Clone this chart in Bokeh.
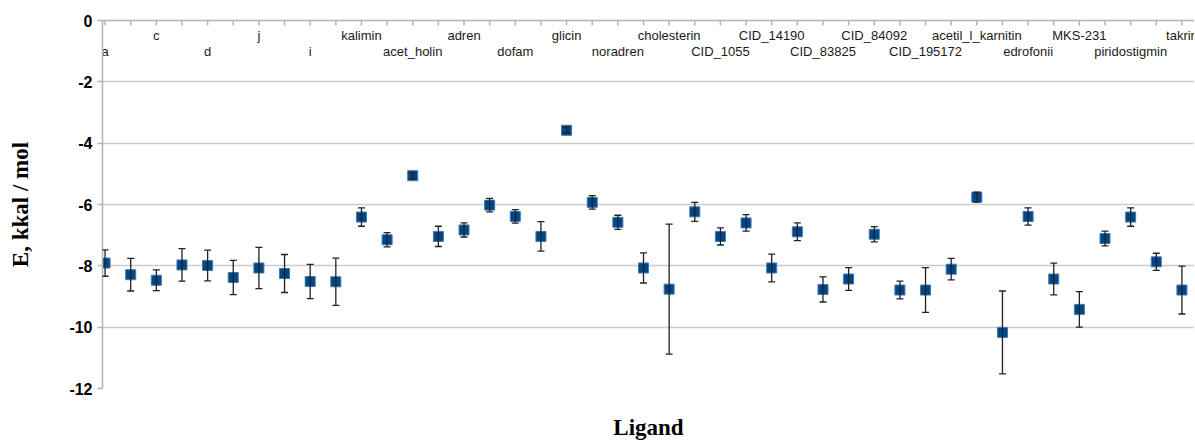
import math
from bokeh.plotting import figure
from bokeh.models import (Range1d, ColumnDataSource, Whisker, TeeHead, LinearAxis,
                          FixedTicker)
from bokeh.core.properties import value
from bokeh.embed import file_html
from bokeh.resources import INLINE

# Category labels (only every other label is legible in the source chart)
ligands = ["a", "", "c", "", "d", "", "j", "", "i", "",
           "kalimin", "", "acet_holin", "", "adren", "", "dofam", "", "glicin", "",
           "noradren", "", "cholesterin", "", "CID_1055", "", "CID_14190", "", "CID_83825", "",
           "CID_84092", "", "CID_195172", "", "acetil_l_karnitin", "", "edrofonii", "", "MKS-231", "",
           "piridostigmin", "", "takrin"]

energy = [-7.91, -8.29, -8.47, -7.97, -7.99, -8.38, -8.07, -8.25, -8.51, -8.52,
          -6.41, -7.15, -5.06, -7.04, -6.83, -6.02, -6.39, -7.04, -3.58, -5.93,
          -6.58, -8.07, -8.76, -6.24, -7.04, -6.60, -8.07, -6.89, -8.77, -8.43,
          -6.97, -8.79, -8.79, -8.11, -5.76, -10.17, -6.39, -8.43, -9.42, -7.11,
          -6.41, -7.87, -8.79]

error = [0.43, 0.53, 0.34, 0.53, 0.50, 0.56, 0.67, 0.62, 0.56, 0.77,
         0.30, 0.23, 0.10, 0.33, 0.23, 0.22, 0.22, 0.48, 0.10, 0.22,
         0.23, 0.49, 2.12, 0.31, 0.28, 0.27, 0.45, 0.29, 0.41, 0.37,
         0.25, 0.29, 0.73, 0.35, 0.16, 1.35, 0.28, 0.52, 0.58, 0.24,
         0.30, 0.28, 0.78]

y_ticks = [0, -2, -4, -6, -8, -10, -12]
y_tick_labels = ["0", "-2", "-4", "-6", "-8", "-10", "-12"]
y_top = 0

idx = list(range(len(energy)))
src = ColumnDataSource(dict(
    x=idx, y=energy,
    upper=[e + d for e, d in zip(energy, error)],
    lower=[e - d for e, d in zip(energy, error)],
))
tick_src = ColumnDataSource(dict(x=idx, y=[y_top] * len(idx)))

lab_x = [i for i, t in enumerate(ligands) if t]
lab_t = [t for t in ligands if t]
lab_off = [15 if (i % 4 == 2) else 31 for i in lab_x]
lab_src = ColumnDataSource(dict(x=lab_x, y=[y_top] * len(lab_x), text=lab_t, off=lab_off))

p = figure(width=1194, height=442,
           x_range=Range1d(-0.1, 42.49), y_range=Range1d(-12, y_top),
           output_backend="svg", toolbar_location=None,
           min_border_left=102, min_border_right=0, min_border_top=20, min_border_bottom=53)
p.outline_line_color = None
p.background_fill_color = "white"
p.border_fill_color = "white"

grid_col = "#cccccc"
axis_col = "#b3b3b3"

p.xgrid.visible = False
p.ygrid.grid_line_color = grid_col
p.ygrid.grid_line_width = 1.5
p.ygrid.ticker = FixedTicker(ticks=y_ticks)

# y axis
p.yaxis.ticker = FixedTicker(ticks=y_ticks)
p.yaxis.major_label_overrides = dict(zip(y_ticks, y_tick_labels))
p.yaxis.axis_line_color = axis_col
p.yaxis.axis_line_width = 1.5
p.yaxis.major_tick_line_color = axis_col
p.yaxis.major_tick_line_width = 1.5
p.yaxis.major_tick_out = 5
p.yaxis.major_tick_in = 0
p.yaxis.minor_tick_line_color = None
p.yaxis.major_label_standoff = 5
p.yaxis.major_label_text_font = "Liberation Sans"
p.yaxis.major_label_text_font_style = "bold"
p.yaxis.major_label_text_font_size = "16px"
p.yaxis.major_label_text_color = "black"
p.yaxis.axis_label = "E, kkal / mol"
p.yaxis.axis_label_text_font = "Liberation Serif"
p.yaxis.axis_label_text_font_style = "bold"
p.yaxis.axis_label_text_font_size = "23px"
p.yaxis.axis_label_text_color = "black"
p.yaxis.axis_label_standoff = 33

# bottom axis: only its title
p.xaxis.ticker = FixedTicker(ticks=[])
p.xaxis.axis_line_color = None
p.xaxis.major_tick_line_color = None
p.xaxis.minor_tick_line_color = None
p.xaxis.major_tick_out = 0
p.xaxis.major_tick_in = 0
p.xaxis.major_label_standoff = 0
p.xaxis.axis_label = "Ligand"
p.xaxis.axis_label_text_font = "Liberation Serif"
p.xaxis.axis_label_text_font_style = "bold"
p.xaxis.axis_label_text_font_size = "23px"
p.xaxis.axis_label_text_color = "black"
p.xaxis.axis_label_standoff = 26

# top axis line (no ticks/labels of its own)
top = LinearAxis(ticker=FixedTicker(ticks=[]),
                 axis_line_color=axis_col, axis_line_width=1.5,
                 major_tick_line_color=None, minor_tick_line_color=None)
p.add_layout(top, "above")

# category tick marks hanging from the top line (half clipped by the frame)
p.scatter(x="x", y="y", source=tick_src, marker="dash", size=10, angle=math.pi / 2,
          line_color=axis_col, line_width=1.5)

# category labels under the top axis
p.text(x="x", y="y", text="text", y_offset="off", source=lab_src,
       text_align="center", text_baseline="middle",
       text_font=value("Liberation Sans"), text_font_size="13px",
       text_color="#1a1a1a")

p.scatter(x="x", y="y", source=src, marker="square", size=10,
          fill_color="#004586", line_color="#3f78b0", line_width=1)

w = Whisker(base="x", upper="upper", lower="lower", source=src, dimension="height",
            line_color="#222222", line_width=1.3, level="overlay",
            upper_head=TeeHead(size=7, line_color="#222222", line_width=1.3),
            lower_head=TeeHead(size=7, line_color="#222222", line_width=1.3))
p.add_layout(w)

open("out.html", "w").write(file_html(p, INLINE))
